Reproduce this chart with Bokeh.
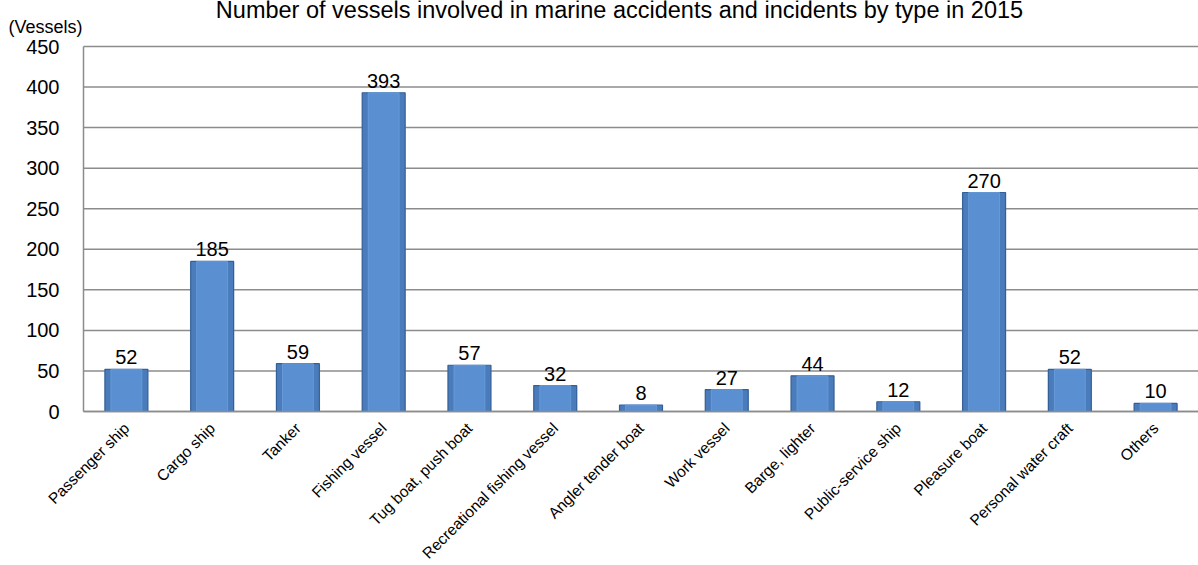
import math
from bokeh.plotting import figure
from bokeh.models import ColumnDataSource, LabelSet, Label, FixedTicker, Range1d
from bokeh.core.properties import value
from bokeh.embed import file_html
from bokeh.resources import INLINE

categories = ["Passenger ship", "Cargo ship", "Tanker", "Fishing vessel", "Tug boat, push boat",
              "Recreational fishing vessel", "Angler tender boat", "Work vessel", "Barge, lighter",
              "Public-service ship", "Pleasure boat", "Personal water craft", "Others"]
vessels = [52, 185, 59, 393, 57, 32, 8, 27, 44, 12, 270, 52, 10]
y_ticks = [0, 50, 100, 150, 200, 250, 300, 350, 400, 450]

title_text = "Number of vessels involved in marine accidents and incidents by type in 2015"
unit_text = "(Vessels)"

FONT = "Liberation Sans"
W, H = 1198, 565
PLOT_LEFT_PX = 83      # pixel column where the category area starts
ZERO_PX = 411          # pixel row of the 0 line
TOP_PX_450 = 46        # pixel row of the 450 gridline

n = len(categories)
xs = list(range(n))
cat_px = (W - PLOT_LEFT_PX) / n
x_start = -0.5 - PLOT_LEFT_PX / cat_px
px_per_unit = (ZERO_PX - TOP_PX_450) / y_ticks[-1]
y_start = -(H - ZERO_PX) / px_per_unit
y_end = ZERO_PX / px_per_unit

src = ColumnDataSource(dict(x=xs, val=vessels, lab=[str(v) for v in vessels]))

p = figure(x_range=Range1d(x_start, n - 0.5), y_range=Range1d(y_start, y_end), width=W, height=H,
           output_backend="svg", toolbar_location=None,
           min_border_left=0, min_border_right=0, min_border_top=0, min_border_bottom=0)
p.title.visible = False
p.outline_line_color = None
p.background_fill_color = "white"
p.border_fill_color = "white"
p.xgrid.grid_line_color = None
p.ygrid.grid_line_color = None

# horizontal gridlines over the category area
p.segment(x0=[-0.5] * len(y_ticks), x1=[n - 0.5] * len(y_ticks), y0=y_ticks, y1=y_ticks,
          line_color="#8c8c8c", line_width=1.5)

# bars (shadow, body, inner bevel)
p.vbar(x="x", top="val", width=0.52, source=src, fill_color="#9aa3ad", fill_alpha=0.3,
       line_color=None)
p.vbar(x="x", top="val", width=0.5, source=src, fill_color="#4A7CBB", line_color="#34609A",
       line_width=1.2)
p.vbar(x="x", top="val", width=0.36, source=src, fill_color="#5A8FD2", line_color="#6EA2DE",
       line_width=1, line_alpha=0.7)

# axes placed inside the canvas-filling frame
p.yaxis.fixed_location = -0.5
p.yaxis.bounds = (0, y_ticks[-1])
p.yaxis.ticker = FixedTicker(ticks=y_ticks)
p.yaxis.major_label_text_font_size = "20px"
p.yaxis.major_label_standoff = 18

p.xaxis.fixed_location = 0
p.xaxis.bounds = (-0.5, n - 0.5)
p.xaxis.ticker = FixedTicker(ticks=xs)
p.xaxis.major_label_overrides = {i: c for i, c in zip(xs, categories)}
p.xaxis.major_label_text_font_size = "15.5px"
p.xaxis.major_label_orientation = math.pi / 4
p.xaxis.major_label_standoff = 8

for ax in (p.xaxis, p.yaxis):
    ax.axis_line_color = "#8c8c8c"
    ax.axis_line_width = 1.5
    ax.major_tick_line_color = None
    ax.minor_tick_line_color = None
    ax.major_label_text_font = FONT
    ax.major_label_text_color = "black"

labels = LabelSet(x="x", y="val", text="lab", source=src, text_align="center",
                  text_baseline="bottom", y_offset=5, text_font=value(FONT),
                  text_font_size=value("20px"), text_color="black")
p.add_layout(labels)

# screen coordinates are measured from the frame's bottom-left corner (= canvas here)
p.add_layout(Label(x=619, y=H - 9, x_units="screen", y_units="screen", text=title_text,
                   text_align="center", text_baseline="alphabetic", text_font=FONT,
                   text_font_size="23.5px", text_color="black"))
p.add_layout(Label(x=8, y=H - 26, x_units="screen", y_units="screen", text=unit_text,
                   text_align="left", text_baseline="alphabetic", text_font=FONT,
                   text_font_size="18px", text_color="black"))

open("out.html", "w").write(file_html(p, INLINE))
